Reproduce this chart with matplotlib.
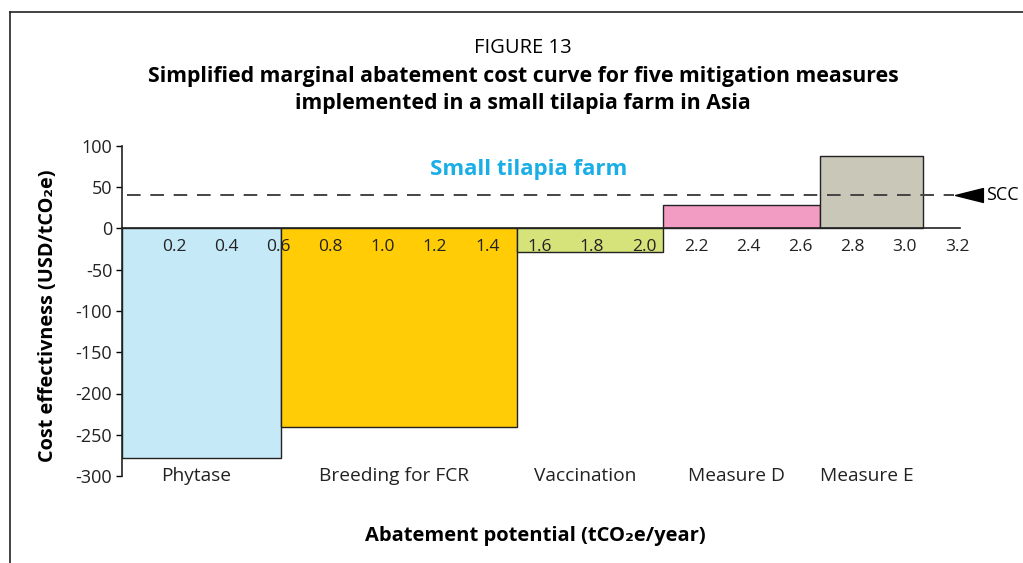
import matplotlib
matplotlib.use("Agg")
import matplotlib.pyplot as plt
from matplotlib.lines import Line2D
from matplotlib.path import Path

plt.rcParams['font.family'] = ['Open Sans', 'DejaVu Sans']

# Data
measures = ["Phytase", "Breeding for FCR", "Vaccination", "Measure D", "Measure E"]
widths = [0.61, 0.905, 0.56, 0.60, 0.395]          # abatement potential (tCO2e/year)
costs = [-278, -241, -29, 29, 88]                   # USD/tCO2e
colors = ["#C6E9F8", "#FFCC05", "#D6E27A", "#F29CC4", "#C9C7B8"]
scc = 40
x_ticks = [0.2, 0.4, 0.6, 0.8, 1.0, 1.2, 1.4, 1.6, 1.8, 2.0, 2.2, 2.4, 2.6, 2.8, 3.0, 3.2]
y_ticks = [100, 50, 0, -50, -100, -150, -200, -250, -300]

fig = plt.figure(figsize=(10.23, 5.63), dpi=100)
ax = fig.add_axes([122/1023, 1-476/563, 835/1023, 330/563])
ax.set_xlim(0, 3.2)
ax.set_ylim(-300, 100)

lefts = []
acc = 0
for w in widths:
    lefts.append(acc)
    acc += w
ax.bar(lefts, costs, width=widths, align='edge', color=colors,
       edgecolor='#222222', linewidth=1.0, zorder=2)

# zero line (x-axis)
ax.plot([0, 3.21], [0, 0], color='#222222', lw=1.2, zorder=3, clip_on=False)

# SCC dashed line
ax.plot([0.02, 3.19], [scc, scc], color='#444444', lw=1.4, dashes=(7, 5), zorder=4, clip_on=False)
tri = Path([(-1, 0), (1, 0.5), (1, -0.5), (-1, 0)],
           [Path.MOVETO, Path.LINETO, Path.LINETO, Path.CLOSEPOLY])
ax.plot([3.245], [scc], marker=tri, markersize=20, color='black', clip_on=False, zorder=5)
ax.text(3.31, scc, "SCC", fontsize=13, va='center', ha='left', clip_on=False)

# x tick labels inside plot below zero line
for t in x_ticks:
    ax.text(t, -22, f"{t:.1f}", fontsize=12.5, ha='center', va='center', color='#222222', zorder=6)

# category labels
for l, w, name in zip(lefts, widths, measures):
    ax.text(l + w/2 - 0.02, -300, name, fontsize=13.8, ha='center', va='center', color='#222222')

ax.text(1.56, 72, "Small tilapia farm", fontsize=16, fontweight='bold', color='#1AAEE6',
        ha='center', va='center')

# axes styling
for s in ['top', 'right', 'bottom']:
    ax.spines[s].set_visible(False)
ax.spines['left'].set_linewidth(1.2)
ax.spines['left'].set_color('#222222')
ax.set_xticks([])
ax.set_yticks(y_ticks)
ax.set_yticklabels([str(v) for v in y_ticks], fontsize=13, color='#222222')
ax.tick_params(axis='y', direction='out', length=4, width=1, pad=3)

fig.text(48/1023, 1-316/563, "Cost effectivness (USD/tCO₂e)", rotation=90, fontsize=14.3,
         fontweight='bold', ha='center', va='center')
fig.text(535/1023, 1-536/563, "Abatement potential (tCO₂e/year)", fontsize=14.5,
         fontweight='bold', ha='center', va='center')

fig.text(523/1023, 1-48/563, "FIGURE 13", fontsize=14.5, ha='center', va='center')
fig.text(523/1023, 1-77/563, "Simplified marginal abatement cost curve for five mitigation measures",
         fontsize=15.3, fontweight='bold', ha='center', va='center')
fig.text(523/1023, 1-103/563, "implemented in a small tilapia farm in Asia",
         fontsize=15.3, fontweight='bold', ha='center', va='center')

# frame
fig.add_artist(Line2D([10/1023, 10/1023], [0, 1-12/563], color='#222222', lw=1.2))
fig.add_artist(Line2D([10/1023, 1], [1-12/563, 1-12/563], color='#222222', lw=1.2))

fig.savefig("out.png", dpi=100)
